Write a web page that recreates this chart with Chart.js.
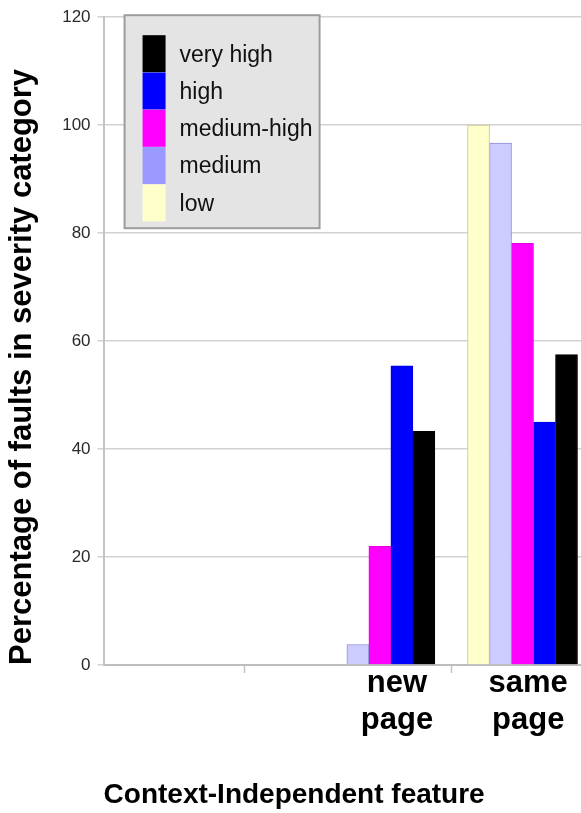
<!DOCTYPE html>
<html>
<head>
<meta charset="utf-8">
<script src="https://cdn.jsdelivr.net/npm/chart.js@4/dist/chart.umd.min.js"></script>
<style>
  html, body { margin: 0; padding: 0; background: #ffffff; overflow: hidden; }
  #wrap { width: 581px; height: 813px; }
</style>
</head>
<body>
<div id="wrap"><canvas id="c" width="581" height="813"></canvas></div>
<script>
// ---- data ----
const categories = ['', '', 'new page', 'same page'];
const seriesNames = ['low', 'medium', 'medium-high', 'high', 'very high'];
const lowValues        = [null, null, 0,    100];
const mediumValues     = [null, null, 3.8,  96.7];
const mediumHighValues = [null, null, 22.0, 78.1];
const highValues       = [null, null, 55.4, 45.0];
const veryHighValues   = [null, null, 43.3, 57.5];
const yTickLabels = [0, 20, 40, 60, 80, 100, 120];
const yTitle = 'Percentage of faults in severity category';
const xTitle = 'Context-Independent feature';

const FONT = "'Liberation Sans', Arial, Helvetica, sans-serif";

const seriesValues = [lowValues, mediumValues, mediumHighValues, highValues, veryHighValues];
const fills   = ['#ffffcc', '#ccccff', '#ff00ff', '#0000ff', '#000000'];
const borders = ['#c9c98f', '#8e8ed6', '#e000e0', '#0000e0', '#000000'];
const swatch  = ['#ffffcc', '#9999ff', '#ff00ff', '#0000ff', '#000000'];

const datasets = seriesNames.map((name, s) => ({
  label: name,
  data: categories.map((c, i) => ({ x: i, y: seriesValues[s][i] })),
  backgroundColor: fills[s],
  borderColor: borders[s],
  borderWidth: 1,
  borderSkipped: 'start',
  barThickness: 22,
  swatchColor: swatch[s]
}));

const boxLegend = {
  id: 'boxLegend',
  afterDraw(chart) {
    const ctx = chart.ctx;
    const a = chart.chartArea;
    const x0 = a.left + 21, y0 = a.top - 2, w = 195, h = 213;
    ctx.save();
    ctx.fillStyle = '#e4e4e4';
    ctx.fillRect(x0, y0, w, h);
    ctx.strokeStyle = '#9c9c9c';
    ctx.lineWidth = 2;
    ctx.strokeRect(x0, y0, w, h);
    const items = chart.data.datasets.slice().reverse();
    items.forEach((d, i) => {
      const y = y0 + 20 + i * 37.3;
      ctx.fillStyle = d.swatchColor;
      ctx.fillRect(x0 + 18, y, 23, 37);
      ctx.fillStyle = '#111111';
      ctx.font = '23px ' + FONT;
      ctx.textBaseline = 'middle';
      ctx.textAlign = 'left';
      ctx.fillText(d.label, x0 + 55, y + 20);
    });
    ctx.restore();
  }
};

const labelTickValues = [1.05, 2.12, 2.5, 3.04];
const markTickValues = [1.05, 2.5];

new Chart(document.getElementById('c'), {
  type: 'bar',
  data: { datasets },
  plugins: [boxLegend],
  options: {
    responsive: false,
    animation: false,
    devicePixelRatio: 1,
    layout: { padding: { left: 0, right: 0, top: 17, bottom: 0 } },
    plugins: {
      legend: { display: false },
      tooltip: { enabled: false },
      title: { display: false }
    },
    scales: {
      x: {
        type: 'linear',
        offset: false,
        bounds: 'data',
        min: 0.063,
        max: 3.41,
        afterBuildTicks: (scale) => { scale.ticks = labelTickValues.map(v => ({ value: v })); },
        ticks: {
          autoSkip: false,
          maxRotation: 0,
          padding: -8,
          color: '#000000',
          font: { family: FONT, size: 31, weight: 'bold', lineHeight: 1.2 },
          callback: (v) => {
            const r = Math.round(v);
            if (markTickValues.includes(v)) return '';
            return categories[r] ? categories[r].split(' ') : '';
          }
        },
        grid: {
          offset: false,
          drawOnChartArea: false,
          drawTicks: true,
          tickLength: 8,
          tickWidth: 1.5,
          tickColor: (ctx) => (ctx.tick && markTickValues.includes(ctx.tick.value)) ? '#c4c4c4' : 'rgba(0,0,0,0)'
        },
        border: { display: true, color: '#bdbdbd', width: 2 },
        title: {
          display: true,
          text: xTitle,
          align: 'start',
          color: '#000000',
          font: { family: FONT, size: 28, weight: 'bold', lineHeight: 1.2 },
          padding: { top: 47, bottom: 1 }
        }
      },
      y: {
        min: 0,
        max: 120,
        afterBuildTicks: (scale) => { scale.ticks = yTickLabels.map(v => ({ value: v })); },
        ticks: {
          padding: 7,
          color: '#2a2a2a',
          font: { family: FONT, size: 17 }
        },
        grid: {
          color: '#d2d2d2',
          lineWidth: 1.5,
          tickLength: 6
        },
        border: { display: true, color: '#c2c2c2', width: 2 },
        title: {
          display: true,
          text: yTitle,
          align: 'start',
          color: '#000000',
          font: { family: FONT, size: 31, weight: 'bold', lineHeight: 1.2 },
          padding: { top: 4, bottom: 14 }
        }
      }
    }
  }
});
</script>
</body>
</html>
